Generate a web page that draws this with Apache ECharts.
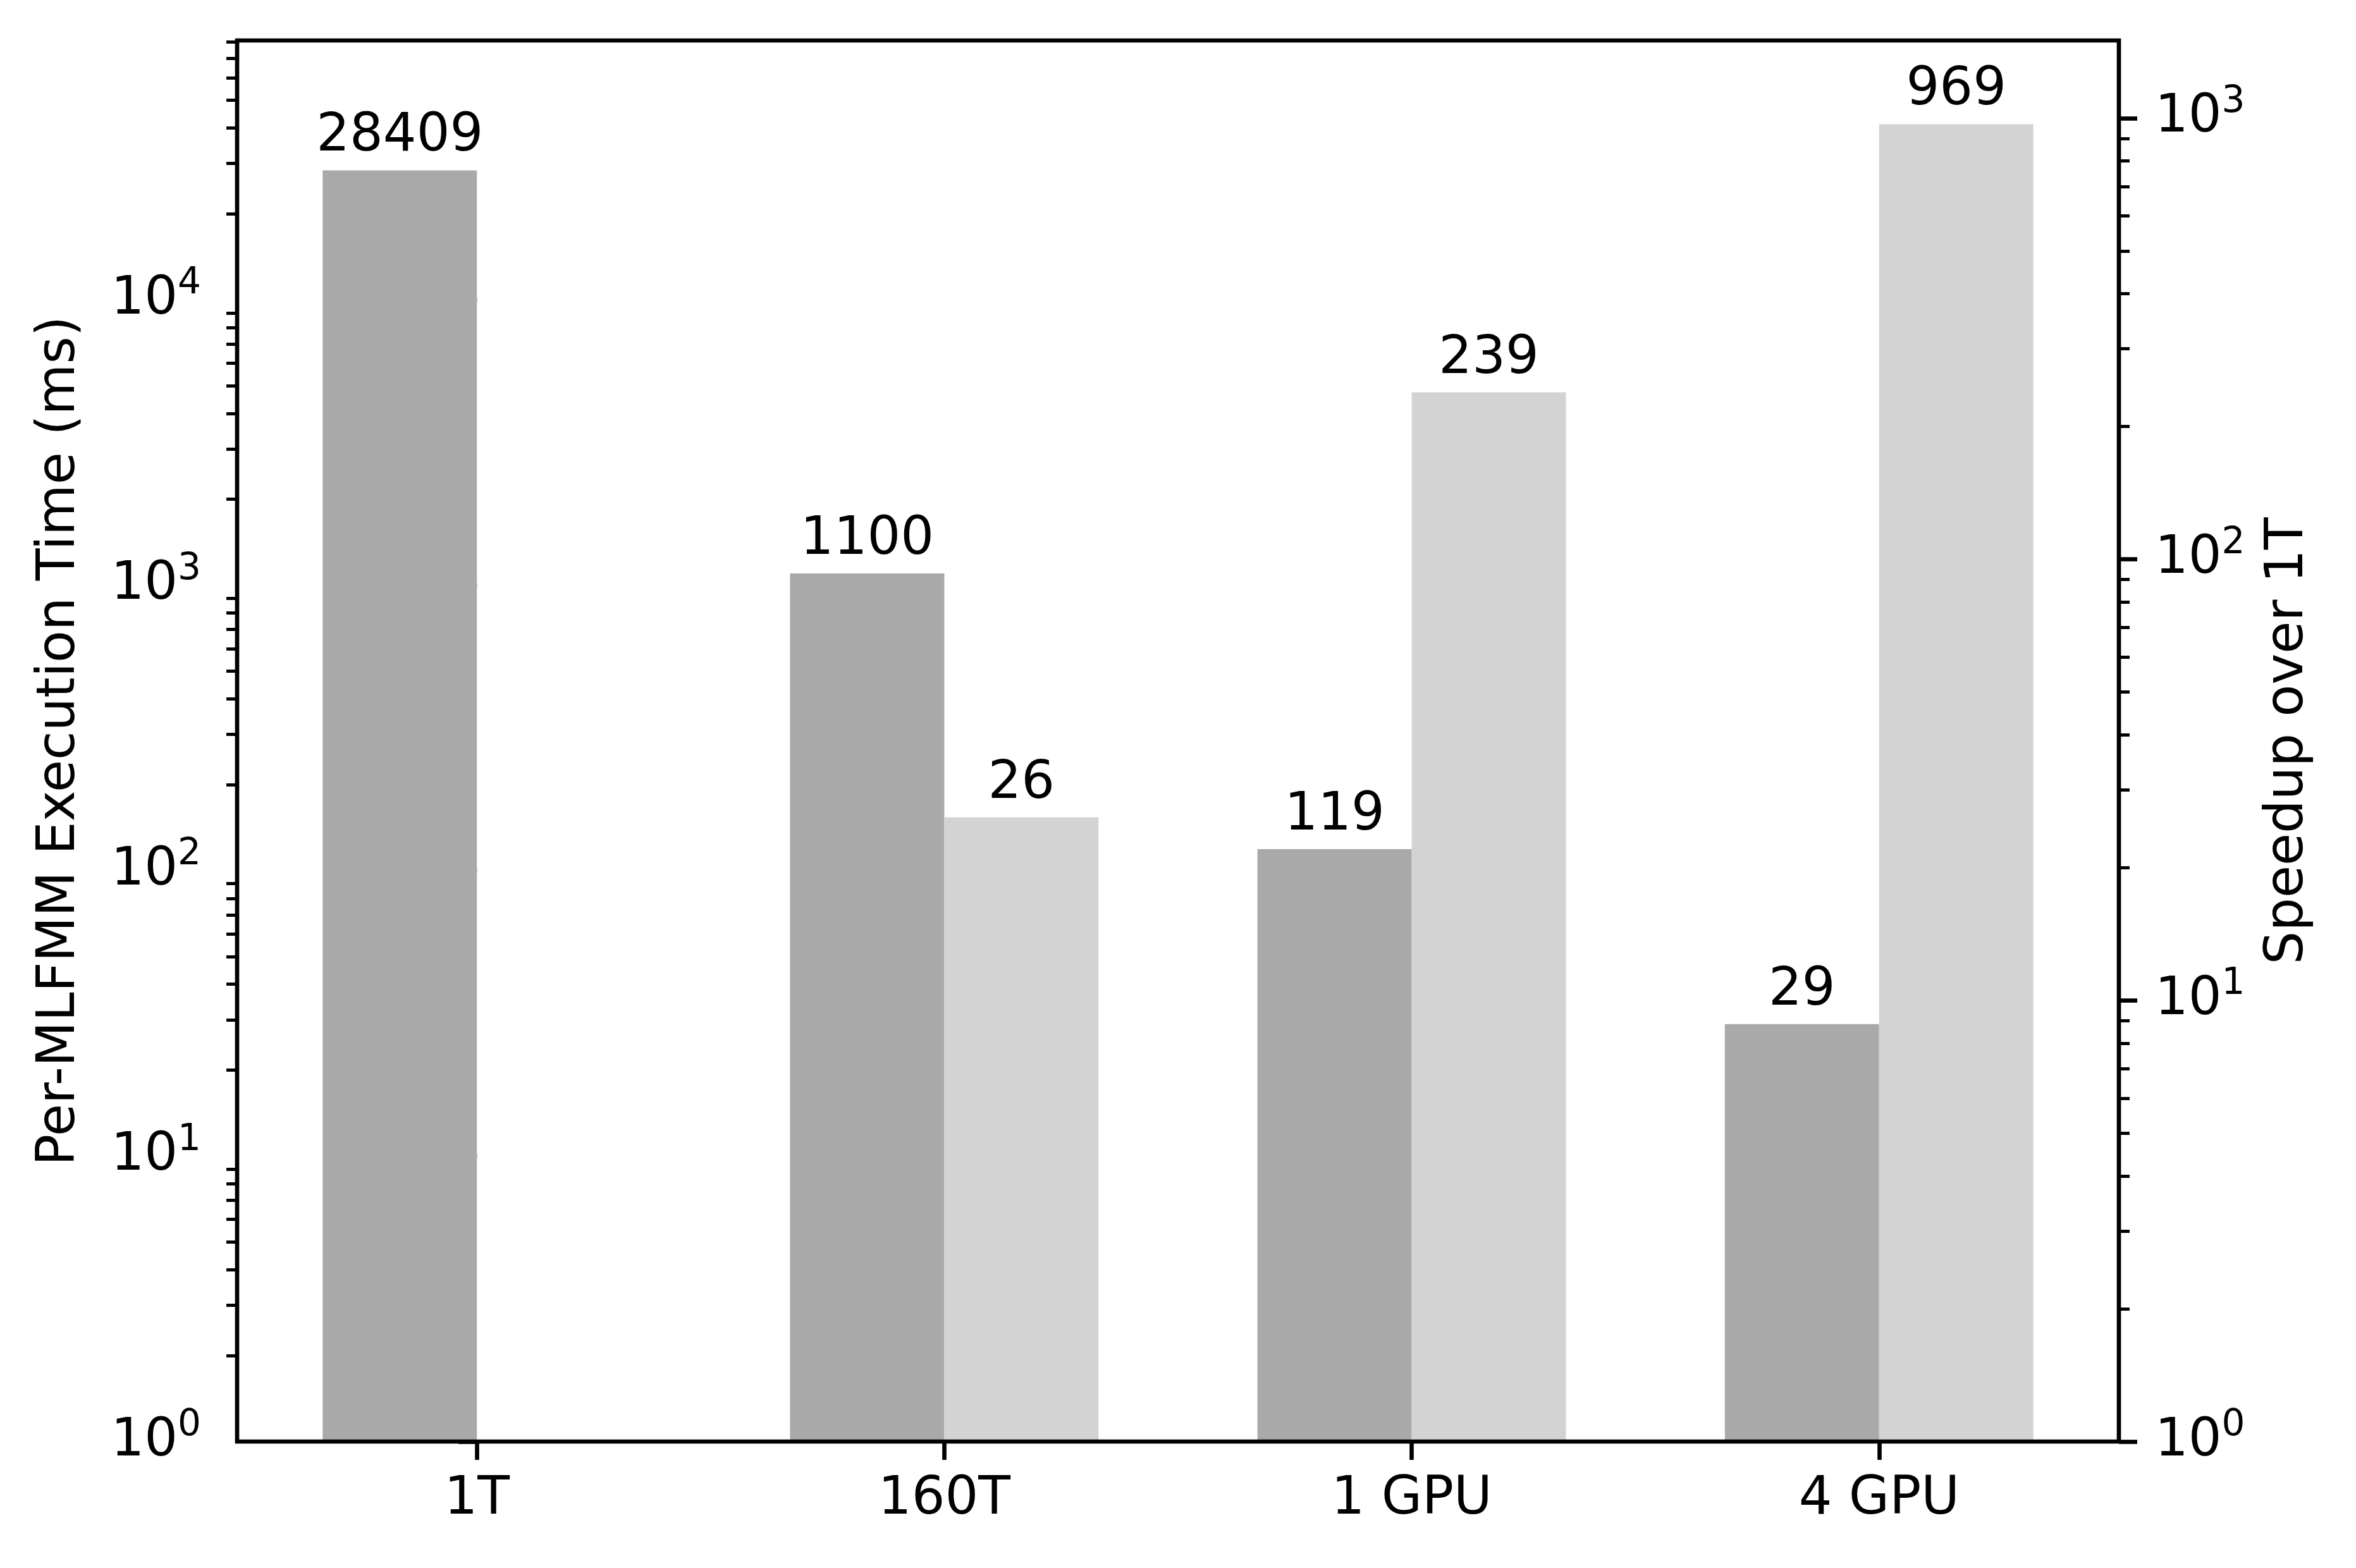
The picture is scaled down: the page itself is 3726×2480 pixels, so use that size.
<!DOCTYPE html>
<html><head><meta charset="utf-8">
<script src="https://cdn.jsdelivr.net/npm/echarts@6/dist/echarts.min.js"></script>
<style>html,body{margin:0;padding:0;background:#fff}#c{width:3726px;height:2480px}</style>
</head><body><div id="c"></div>
<script>
// ---- data ----
const categories = ['1T', '160T', '1 GPU', '4 GPU'];
const execTimeMs = [28409, 1100, 119, 29];
const speedup = [null, 26, 239, 969];
const execTimeLabels = ['28409', '1100', '119', '29'];
const speedupLabels = [null, '26', '239', '969'];
const xTickValues = [0, 1, 2, 3];
const leftMajorTicks = [1, 10, 100, 1000, 10000];
const rightMajorTicks = [1, 10, 100, 1000];
const leftMinorTicks = [2,3,4,5,6,7,8,9, 20,30,40,50,60,70,80,90, 200,300,400,500,600,700,800,900,
  2000,3000,4000,5000,6000,7000,8000,9000, 20000,30000,40000,50000,60000,70000,80000];
const rightMinorTicks = [2,3,4,5,6,7,8,9, 20,30,40,50,60,70,80,90, 200,300,400,500,600,700,800,900];
const leftMax = 81000;
const rightMax = 1500;

// ---- style ----
const FONT = 'DejaVu Sans';
const FS = 83;
const BAR_W = 0.33;
const X_MIN = -0.513, X_MAX = 3.513;
const DARK = '#a9a9a9', LIGHT = '#d3d3d3';

function supLabel(v) {
  const e = Math.round(Math.log10(v));
  return '{base|10}{sup|' + e + '}';
}
function majorLabel(ticks, margin) {
  return {
    show: true, customValues: ticks, formatter: supLabel,
    fontFamily: FONT, fontSize: FS, color: '#000', lineHeight: FS, margin: margin,
    rich: {
      base: { fontFamily: FONT, fontSize: FS, lineHeight: FS, color: '#000' },
      sup: { fontFamily: FONT, fontSize: 58, lineHeight: 58, padding: [0, 0, 50, 0], color: '#000' }
    }
  };
}
function yAxisMain(max, pos, ticks, name, gap) {
  return {
    type: 'log', logBase: 10, min: 1, max: max, position: pos,
    axisLine: { show: false }, splitLine: { show: false }, minorTick: { show: false },
    axisTick: { show: true, inside: false, length: 29, customValues: ticks, lineStyle: { color: '#000', width: 6.67 } },
    axisLabel: majorLabel(ticks, 57),
    name: name, nameLocation: 'middle', nameRotate: 90, nameGap: gap,
    nameTextStyle: { fontFamily: FONT, fontSize: FS, color: '#000', lineHeight: FS }
  };
}
function yAxisMinor(max, pos, ticks) {
  return {
    type: 'log', logBase: 10, min: 1, max: max, position: pos,
    axisLine: { show: false }, splitLine: { show: false }, minorTick: { show: false },
    axisTick: { show: true, inside: false, length: 17, customValues: ticks, lineStyle: { color: '#000', width: 5 } },
    axisLabel: { show: false }
  };
}
function barSeries(name, values, labels, yIdx, offset, color) {
  const data = [], lab = [];
  values.forEach((v, i) => { if (v != null) { data.push([i, v]); lab.push(labels[i]); } });
  return {
    type: 'custom', name: name, xAxisIndex: 0, yAxisIndex: yIdx, data: data,
    encode: { x: 0, y: 1 },
    renderItem: function (params, api) {
      const x = api.value(0), v = api.value(1);
      const tl = api.coord([x + offset, v]);
      const br = api.coord([x + offset + BAR_W, 1]);
      return {
        type: 'group',
        children: [
          { type: 'rect', shape: { x: tl[0], y: tl[1], width: br[0] - tl[0], height: br[1] - tl[1] },
            style: { fill: color } },
          { type: 'text', x: (tl[0] + br[0]) / 2, y: tl[1] - 11,
            style: { text: lab[params.dataIndex], fontFamily: FONT, fontSize: FS, fill: '#000',
                     align: 'center', verticalAlign: 'bottom' } }
        ]
      };
    }
  };
}

const chart = echarts.init(document.getElementById('c'), null, { renderer: 'canvas' });
chart.setOption({
  animation: false,
  backgroundColor: '#fff',
  grid: { left: 375, right: 375, top: 64, bottom: 200, show: true, borderColor: '#000', borderWidth: 6.67,
          backgroundColor: 'transparent', containLabel: false, outerBoundsMode: 'none', z: 10 },
  xAxis: {
    type: 'value', min: X_MIN, max: X_MAX, position: 'bottom',
    axisLine: { show: false }, splitLine: { show: false },
    axisTick: { show: true, length: 29, customValues: xTickValues, lineStyle: { color: '#000', width: 6.67 } },
    axisLabel: { show: true, customValues: xTickValues, formatter: v => categories[Math.round(v)],
                 fontFamily: FONT, fontSize: FS, color: '#000', lineHeight: FS, margin: 51 }
  },
  yAxis: [
    yAxisMain(leftMax, 'left', leftMajorTicks, 'Per-MLFMM Execution Time (ms)', 238),
    yAxisMain(rightMax, 'right', rightMajorTicks, 'Speedup over 1T', 227),
    yAxisMinor(leftMax, 'left', leftMinorTicks),
    yAxisMinor(rightMax, 'right', rightMinorTicks)
  ],
  series: [
    barSeries('Execution time', execTimeMs, execTimeLabels, 0, -BAR_W, DARK),
    barSeries('Speedup', speedup, speedupLabels, 1, 0, LIGHT)
  ]
});
</script></body></html>
